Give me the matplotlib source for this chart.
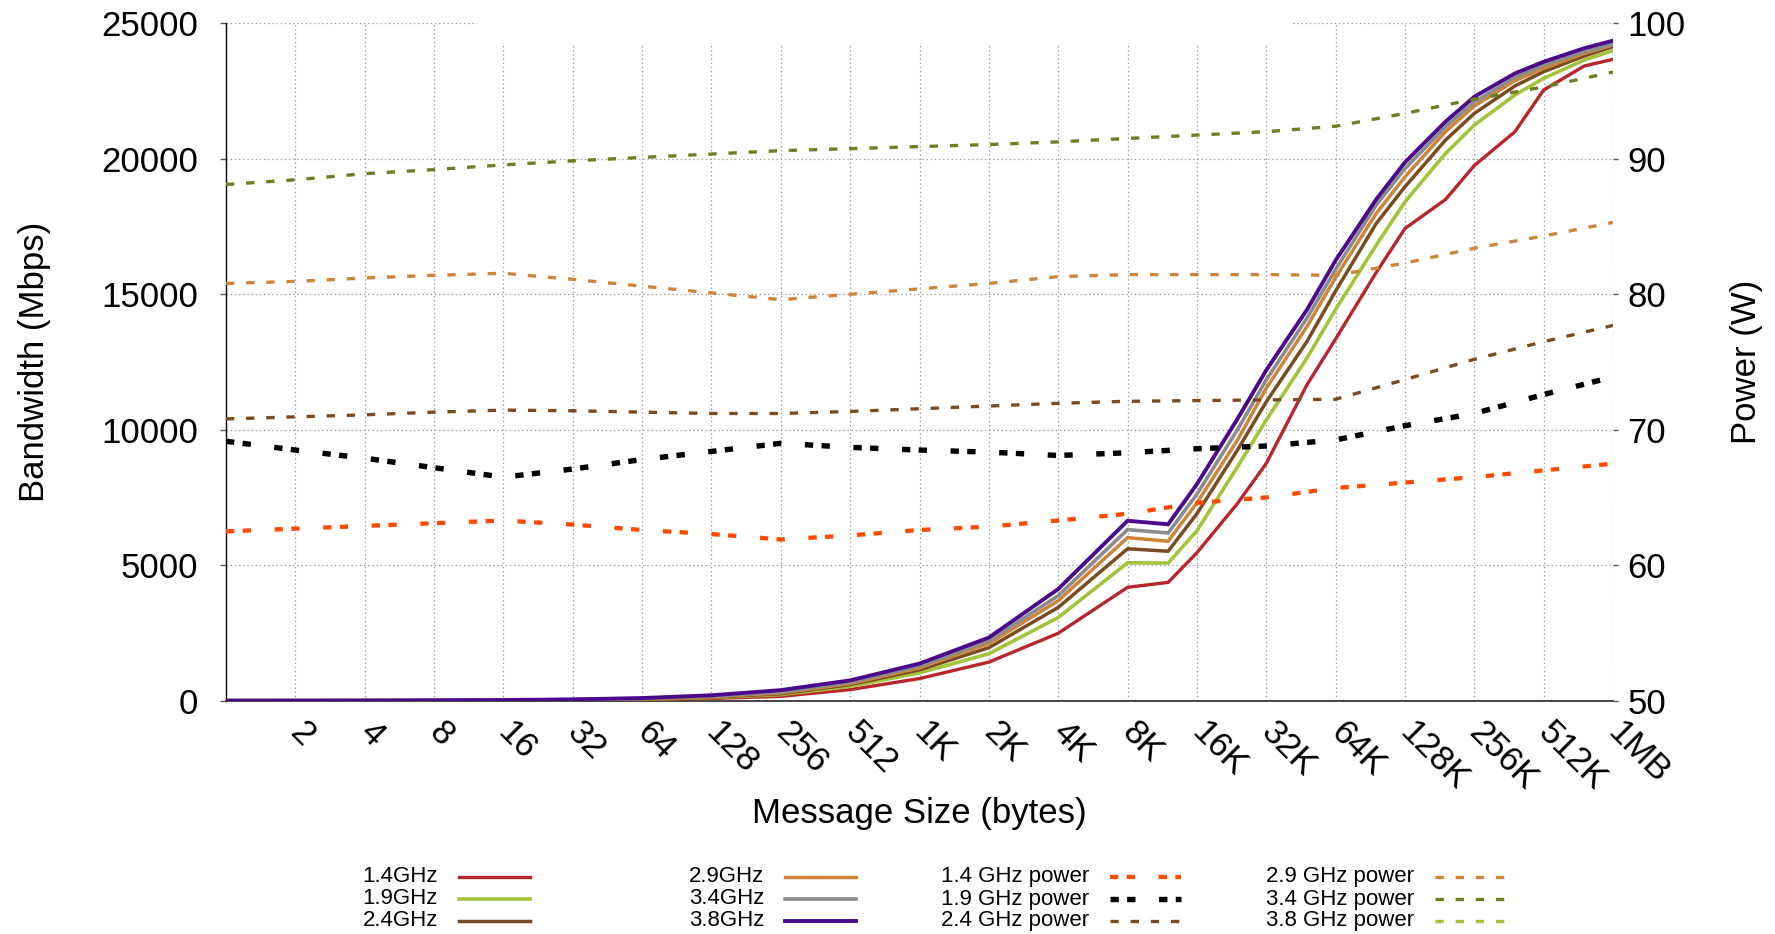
import matplotlib
matplotlib.use("Agg")
import matplotlib.pyplot as plt
from matplotlib.lines import Line2D
from matplotlib.patches import Rectangle

plt.rcParams["font.family"] = ["Liberation Sans", "DejaVu Sans"]
plt.rcParams["lines.scale_dashes"] = False

# ---------------------------------------------------------------- data
# message sizes (bytes) for the bandwidth runs
bw_sizes = [1, 2, 4, 8, 16, 32, 64, 128, 256, 512, 1024, 2048, 4096, 8192,
            12288, 16384, 24576, 32768, 49152, 65536, 98304, 131072,
            196608, 262144, 393216, 524288, 786432, 1048576]

# bandwidth in Mbps per core frequency
bw_14 = [0.65, 1.3, 2.6, 5.2, 10.5, 21, 41, 82, 161, 409, 817, 1424, 2488, 4184,
         4366, 5460, 7278, 8756, 11650, 13350, 15800, 17426, 18498, 19750,
         20998, 22537, 23424, 23670]
bw_19 = [0.9, 1.8, 3.6, 7.2, 14.5, 29, 58, 115, 223, 532, 1027, 1733, 3070, 5088,
         5080, 6270, 8630, 10357, 12635, 14440, 16810, 18411, 20197, 21244,
         22352, 22968, 23645, 23990]
bw_24 = [1.0, 2.0, 4.1, 8.2, 16, 33, 66, 130, 255, 594, 1139, 1956, 3442, 5608,
         5515, 6900, 9250, 11030, 13250, 15120, 17610, 18966, 20690, 21675,
         22685, 23214, 23793, 24138]
bw_29 = [1.2, 2.3, 4.6, 9.2, 18, 37, 74, 148, 285, 631, 1213, 2105, 3689, 6017,
         5885, 7300, 9620, 11530, 13800, 15620, 17980, 19335, 21000, 21946,
         22880, 23337, 23890, 24200]
bw_34 = [1.3, 2.6, 5.2, 10, 20, 41, 82, 165, 320, 681, 1275, 2204, 3875, 6314,
         6190, 7620, 10000, 11840, 14110, 15920, 18290, 19640, 21180, 22100,
         23000, 23460, 23950, 24240]
bw_38 = [1.5, 3, 6, 12, 25, 48, 98, 200, 390, 750, 1370, 2330, 4120, 6640,
         6510, 7990, 10400, 12200, 14420, 16250, 18500, 19870, 21370, 22290,
         23150, 23580, 24080, 24360]

# message sizes (bytes) for the power runs
pw_sizes = [2 ** k for k in range(21)]

# power draw in W per core frequency
pw_14 = [62.5, 62.7, 62.9, 63.1, 63.3, 63.0, 62.6, 62.3, 61.9, 62.2, 62.6,
         62.85, 63.3, 63.8, 64.6, 65.0, 65.7, 66.1, 66.5, 67.0, 67.5]
pw_19 = [69.15, 68.5, 67.9, 67.2, 66.5, 67.1, 67.8, 68.4, 69.0, 68.7, 68.5,
         68.35, 68.1, 68.3, 68.6, 68.8, 69.25, 70.3, 71.2, 72.6, 73.9]
pw_24 = [70.8, 70.95, 71.1, 71.3, 71.45, 71.4, 71.3, 71.2, 71.2, 71.35, 71.55,
         71.75, 71.95, 72.1, 72.15, 72.2, 72.25, 73.7, 75.2, 76.5, 77.7]
pw_29 = [80.8, 80.95, 81.2, 81.4, 81.55, 81.1, 80.6, 80.1, 79.6, 80.0, 80.4,
         80.8, 81.3, 81.45, 81.45, 81.45, 81.4, 82.3, 83.4, 84.3, 85.3]
pw_34 = [88.1, 88.45, 88.9, 89.2, 89.55, 89.85, 90.1, 90.35, 90.6, 90.75, 90.9,
         91.05, 91.25, 91.5, 91.75, 92.0, 92.4, 93.35, 94.4, 95.3, 96.4]
pw_38 = []  # no 3.8 GHz power samples within the plotted range

tick_sizes = [2 ** k for k in range(1, 21)]
tick_labels = ["2", "4", "8", "16", "32", "64", "128", "256", "512", "1K",
               "2K", "4K", "8K", "16K", "32K", "64K", "128K", "256K", "512K", "1MB"]

bw_labels = ["1.4GHz", "1.9GHz", "2.4GHz", "2.9GHz", "3.4GHz", "3.8GHz"]
pw_labels = ["1.4 GHz power", "1.9 GHz power", "2.4 GHz power",
             "2.9 GHz power", "3.4 GHz power", "3.8 GHz power"]

# ---------------------------------------------------------------- styles
bw_colors = ["#b8252b", "#a3c43a", "#7a4b22", "#cc853a", "#8c8c8c", "#4b0a8c"]
bw_widths = [2.4, 2.6, 2.5, 2.5, 2.6, 2.8]
pw_colors = ["#ff4b00", "#000000", "#7a4b22", "#cc853a", "#6b7f23", "#a3c43a"]
pw_widths = [3.1, 3.9, 2.4, 2.4, 2.4, 2.4]
pair_dash = (0, (6, 6, 6, 17))
even_dash = (0, (6, 8.5))
pw_styles = [pair_dash, pair_dash, even_dash, even_dash, even_dash, even_dash]

W, H = 1775, 934
fig = plt.figure(figsize=(W / 100, H / 100), dpi=100)
L, R, T, B = 226, 1613, 23.3, 700.7
ax = fig.add_axes([L / W, 1 - B / H, (R - L) / W, (B - T) / H])
ax2 = ax.twinx()

ax.set_xscale("log", base=2)
ax.set_xlim(1, 2 ** 20)
ax.set_ylim(0, 25000)
ax2.set_ylim(50, 100)

ax.set_xticks(tick_sizes)
ax.set_xticklabels(tick_labels, rotation=-45, rotation_mode="anchor",
                   ha="left", va="center")
ax.xaxis.set_minor_locator(matplotlib.ticker.NullLocator())
ax.set_yticks(range(0, 25001, 5000))
ax2.set_yticks(range(50, 101, 10))

ax.set_axisbelow(True)
ax.grid(True, color="#9a9a9a", linestyle=(0, (1, 2)), linewidth=0.9)
ax2.grid(False)

for a in (ax, ax2):
    for s in ("top", "right"):
        a.spines[s].set_visible(False)
ax2.spines["left"].set_visible(False)
ax2.spines["bottom"].set_visible(False)
ax.spines["left"].set_color("#000000")
ax.spines["left"].set_linewidth(1.0)
ax.spines["bottom"].set_color("#444444")
ax.spines["bottom"].set_linewidth(1.4)

ax.tick_params(axis="x", length=0, pad=19, labelsize=25)
ax.tick_params(axis="y", direction="out", length=4.3, width=1, color="#555555",
               pad=15.5, labelsize=25)
ax2.tick_params(axis="y", direction="out", length=3.6, width=1, color="#555555",
                pad=7, labelsize=25)

ax.set_xlabel("Message Size (bytes)", fontsize=25)
ax.xaxis.set_label_coords(0.4997, -0.166)
ax.xaxis.label.set_va("center")
ax.set_ylabel("Bandwidth (Mbps)", fontsize=25)
ax.yaxis.set_label_coords(-0.1384, 0.5)
ax.yaxis.label.set_va("center")
ax2.set_ylabel("Power (W)", fontsize=25, rotation=90)
ax2.yaxis.set_label_coords(1.0966, 0.5)
ax2.yaxis.label.set_va("center")

# blank strip along the top edge of the plot
ax.add_patch(Rectangle((2 ** 3.62, 24270), 2 ** 15.39 - 2 ** 3.62, 1200,
                       facecolor="white", edgecolor="none", zorder=1,
                       clip_on=False))

bw_series = [bw_14, bw_19, bw_24, bw_29, bw_34, bw_38]
pw_series = [pw_14, pw_19, pw_24, pw_29, pw_34, pw_38]

for vals, c, lw in zip(bw_series, bw_colors, bw_widths):
    ax.plot(bw_sizes[:len(vals)], vals, color=c, linewidth=lw, zorder=3,
            solid_joinstyle="miter")

for vals, c, lw, ls in zip(pw_series, pw_colors, pw_widths, pw_styles):
    ax2.plot(pw_sizes[:len(vals)], vals, color=c, linewidth=lw, linestyle=ls,
             dash_capstyle="butt", zorder=3)

# key below the plot: four columns of three entries
col_text_right = [438, 764, 1089, 1414]
row_y = [876.5, 899, 920.5]
entries = []
for i in range(6):
    entries.append((bw_labels[i], bw_colors[i], bw_widths[i], "-", i // 3, i % 3))
for i in range(6):
    entries.append((pw_labels[i], pw_colors[i], pw_widths[i], pw_styles[i],
                    2 + i // 3, i % 3))
for label, c, lw, ls, col, row in entries:
    xr = col_text_right[col]
    y = row_y[row]
    fig.text(xr / W, 1 - y / H, label, ha="right", va="center", fontsize=16)
    fig.add_artist(Line2D([(xr + 21) / W, (xr + 92) / W],
                          [1 - y / H, 1 - y / H], transform=fig.transFigure,
                          color=c, linewidth=lw, linestyle=ls,
                          dash_capstyle="butt"))

fig.savefig("out.png", dpi=100)
